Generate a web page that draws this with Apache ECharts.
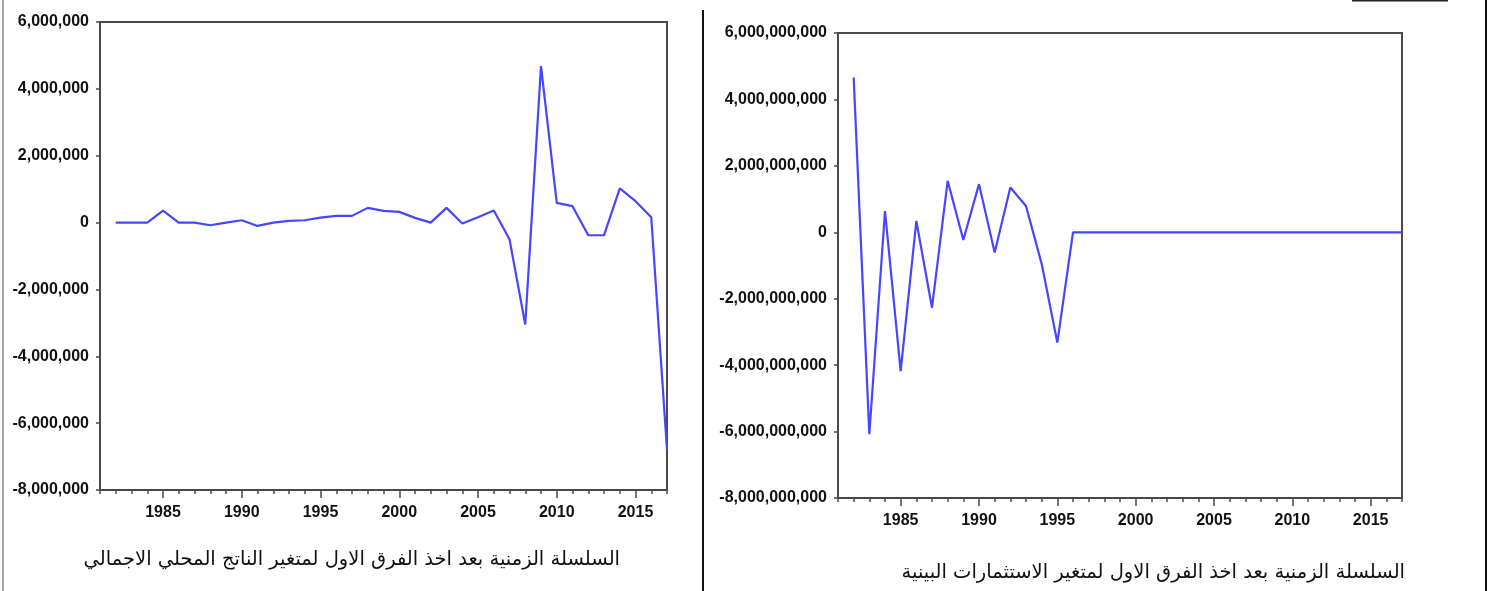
<!DOCTYPE html>
<html>
<head>
<meta charset="utf-8">
<style>
  html, body { margin: 0; padding: 0; background: #fff; }
  #chart { width: 1491px; height: 591px; }
</style>
<script src="https://cdn.jsdelivr.net/npm/echarts@6/dist/echarts.min.js"></script>
</head>
<body>
<div id="chart"></div>
<script>
// First-differenced annual series, 1982-2017
const years = [1982, 1983, 1984, 1985, 1986, 1987, 1988, 1989, 1990, 1991,
               1992, 1993, 1994, 1995, 1996, 1997, 1998, 1999, 2000, 2001,
               2002, 2003, 2004, 2005, 2006, 2007, 2008, 2009, 2010, 2011,
               2012, 2013, 2014, 2015, 2016, 2017];

// GDP, first difference
const gdpDiff = [0, 0, 0, 360000, 0, 0, -80000, 0, 70000, -100000,
                 0, 50000, 70000, 150000, 200000, 200000, 440000, 350000, 320000, 140000,
                 0, 440000, -30000, 160000, 360000, -500000, -3050000, 4680000, 590000, 490000,
                 -380000, -380000, 1020000, 640000, 160000, -6800000];

// Inter-investment, first difference
const invDiff = [4660000000, -6080000000, 640000000, -4180000000, 340000000, -2270000000,
                 1550000000, -230000000, 1450000000, -610000000, 1350000000, 790000000,
                 -950000000, -3320000000, 0, 0, 0, 0, 0, 0,
                 0, 0, 0, 0, 0, 0, 0, 0, 0, 0,
                 0, 0, 0, 0, 0, 0];

const majorYears = [1985, 1990, 1995, 2000, 2005, 2010, 2015];

const captionGdp = 'السلسلة الزمنية بعد اخذ الفرق الاول لمتغير الناتج المحلي الاجمالي';
const captionInv = 'السلسلة الزمنية بعد اخذ الفرق الاول لمتغير الاستثمارات البينية';

const axisColor = '#4a4a4a';
const lineBlue = '#4646ff';
const labelFont = "'Liberation Sans', Arial, sans-serif";
const captionFont = "19.5px 'DejaVu Sans', sans-serif";

function pairs(vals) {
  return years.map((y, i) => [y, vals[i]]);
}

function yAxisFor(gridIndex, min, max, step) {
  return {
    gridIndex, type: 'value', min, max, interval: step,
    axisLine: { show: true, lineStyle: { color: axisColor, width: 2 } },
    axisTick: { show: true, length: 4, lineStyle: { color: axisColor, width: 1.5 } },
    axisLabel: {
      color: '#111', fontFamily: labelFont, fontWeight: 'bold', fontSize: 16, margin: 11,
      formatter: v => v.toLocaleString('en-US')
    },
    splitLine: { show: false }
  };
}

function xAxesFor(gridIndex) {
  return [
    {
      gridIndex, type: 'value', position: 'bottom', min: 1981, max: 2017, interval: 1,
      axisLine: { show: true, onZero: false, lineStyle: { color: axisColor, width: 2 } },
      axisTick: { show: true, length: 4, lineStyle: { color: axisColor, width: 1.5 } },
      axisLabel: { show: false },
      splitLine: { show: false }
    },
    {
      gridIndex, type: 'value', position: 'bottom', min: 1981, max: 2017,
      axisLine: { show: false, onZero: false },
      axisTick: { show: true, length: 8, customValues: majorYears,
                  lineStyle: { color: axisColor, width: 1.5 } },
      axisLabel: {
        customValues: majorYears, color: '#111', fontFamily: labelFont,
        fontWeight: 'bold', fontSize: 16, margin: 15,
        formatter: v => String(v)
      },
      splitLine: { show: false }
    }
  ];
}

const chart = echarts.init(document.getElementById('chart'), null, { renderer: 'canvas' });

chart.setOption({
  backgroundColor: '#ffffff',
  animation: false,
  grid: [
    { left: 100, top: 22, width: 567, height: 468, show: true,
      borderColor: axisColor, borderWidth: 2, backgroundColor: '#fff' },
    { left: 838, top: 33, width: 564, height: 465, show: true,
      borderColor: axisColor, borderWidth: 2, backgroundColor: '#fff' }
  ],
  xAxis: [...xAxesFor(0), ...xAxesFor(1)],
  yAxis: [
    yAxisFor(0, -8000000, 6000000, 2000000),
    yAxisFor(1, -8000000000, 6000000000, 2000000000)
  ],
  series: [
    { type: 'line', xAxisIndex: 0, yAxisIndex: 0, data: pairs(gdpDiff),
      showSymbol: false, lineStyle: { color: lineBlue, width: 2.2 } },
    { type: 'line', xAxisIndex: 2, yAxisIndex: 1, data: pairs(invDiff),
      showSymbol: false, lineStyle: { color: lineBlue, width: 2.2 } }
  ],
  graphic: [
    { type: 'line', shape: { x1: 3, y1: 0, x2: 3, y2: 591 },
      style: { stroke: '#8a8a8a', lineWidth: 1.5 } },
    { type: 'line', shape: { x1: 703, y1: 10, x2: 703, y2: 591 },
      style: { stroke: '#111', lineWidth: 2 } },
    { type: 'line', shape: { x1: 1486, y1: 0, x2: 1486, y2: 591 },
      style: { stroke: '#111', lineWidth: 2 } },
    { type: 'line', shape: { x1: 1352, y1: 0.5, x2: 1448, y2: 0.5 },
      style: { stroke: '#222', lineWidth: 2 } },
    { type: 'text', x: 620, y: 560,
      style: { text: captionGdp, font: captionFont, fill: '#111',
               align: 'right', verticalAlign: 'middle' } },
    { type: 'text', x: 1405, y: 573,
      style: { text: captionInv, font: captionFont, fill: '#111',
               align: 'right', verticalAlign: 'middle' } }
  ]
});
</script>
</body>
</html>
